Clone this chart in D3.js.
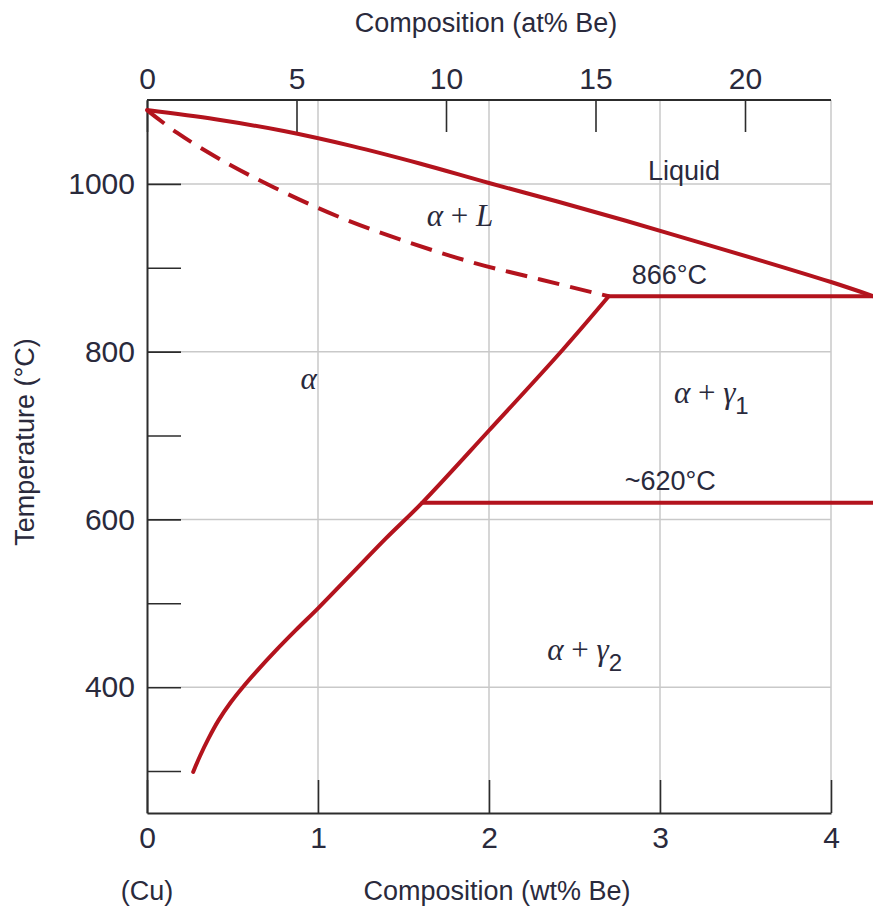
<!DOCTYPE html>
<html>
<head>
<meta charset="utf-8">
<script src="https://cdn.jsdelivr.net/npm/d3@7"></script>
<style>
  html, body { margin: 0; padding: 0; background: #fff; }
  svg text { font-family: "Liberation Sans", Arial, sans-serif; fill: #2a2a3c; }
</style>
</head>
<body>
<svg id="chart" width="873" height="907"></svg>
<script>
// ---- data (wt% Be, temperature °C) ----
const liquidusWt = [0, 0.4, 0.8, 1.2, 1.6, 2.0, 2.4, 2.8, 3.2, 3.6, 4.0, 4.25];
const liquidusT  = [1088, 1077, 1063, 1045, 1024, 1001, 979, 956, 932, 908, 883, 866];

const solidusWt = [0, 0.175, 0.43, 0.74, 1.13, 1.52, 1.91, 2.3, 2.7];
const solidusT  = [1088, 1061, 1029, 996, 960, 931, 906, 886, 866];

const solvusWt = [0.27, 0.31, 0.36, 0.42, 0.49, 0.56, 0.65, 0.75, 0.87, 1.0, 1.2, 1.4, 1.61, 2.0, 2.43, 2.7];
const solvusT  = [299, 318, 339, 361, 382, 400, 421, 443, 468, 494, 536, 578, 620, 706, 802, 866];

const peritecticWt = [2.7, 4.25];
const peritecticT  = [866, 866];
const eutectoidWt  = [1.61, 4.25];
const eutectoidT   = [620, 620];

const wtTicks = [0, 1, 2, 3, 4];
const atTicks = [0, 5, 10, 15, 20];
const tempTicks = [300, 400, 500, 600, 700, 800, 900, 1000];
const tempLabels = [400, 600, 800, 1000];
const gridWt = [1, 2, 3, 4];
const gridT = [400, 600, 800, 1000];

// region labels: [text, wt, T]
const plainLabels = [
  ["Liquid", 3.14, 1005],
  ["866°C", 3.055, 881],
  ["~620°C", 3.06, 635]
];

(function () {
// ---- layout ----
const svg = d3.select("#chart");
const mLeft = 147, mRight = 831, mTop = 100, mBottom = 813;
const x = d3.scaleLinear().domain([0, 4]).range([mLeft, mRight]);
const xAt = d3.scaleLinear().domain([0, 20]).range([mLeft, 745]);
const y = d3.scaleLinear().domain([250, 1100]).range([mBottom, mTop]);

const red = "#b3131d";
const gridColor = "#c9c9c9";
const axisColor = "#2c2c2c";

// grid
svg.append("g").selectAll("line").data(gridWt).join("line")
  .attr("x1", d => x(d)).attr("x2", d => x(d))
  .attr("y1", mTop).attr("y2", mBottom)
  .attr("stroke", gridColor).attr("stroke-width", 1.5);
svg.append("g").selectAll("line").data(gridT).join("line")
  .attr("x1", mLeft).attr("x2", mRight)
  .attr("y1", d => y(d)).attr("y2", d => y(d))
  .attr("stroke", gridColor).attr("stroke-width", 1.5);

function styleAxis(g) {
  g.select(".domain").attr("stroke", axisColor).attr("stroke-width", 2);
  g.selectAll(".tick line").attr("stroke", axisColor).attr("stroke-width", 1.6);
  g.selectAll(".tick text").attr("font-size", 30)
    .attr("font-family", "Liberation Sans, Arial, sans-serif").attr("fill", "#2a2a3c");
}

// bottom axis
svg.append("g").attr("transform", `translate(0,${mBottom})`)
  .call(d3.axisBottom(x).tickValues(wtTicks).tickSizeInner(-33).tickSizeOuter(0).tickPadding(14).tickFormat(d3.format("d")))
  .call(styleAxis);

// top axis
svg.append("g").attr("transform", `translate(0,${mTop})`)
  .call(d3.axisTop(xAt).tickValues(atTicks).tickSizeInner(-32).tickSizeOuter(0).tickPadding(11).tickFormat(d3.format("d")))
  .call(g => g.select(".domain").attr("d", `M${mLeft},0H${mRight}`))
  .call(styleAxis);

// left axis
svg.append("g").attr("transform", `translate(${mLeft},0)`)
  .call(d3.axisLeft(y).tickValues(tempTicks).tickSizeInner(-34).tickSizeOuter(0).tickPadding(12)
    .tickFormat(d => tempLabels.includes(d) ? d : ""))
  .call(styleAxis);

// phase boundaries
const curveLine = d3.line().x(d => x(d[0])).y(d => y(d[1])).curve(d3.curveCatmullRom.alpha(0.5));
const straightLine = d3.line().x(d => x(d[0])).y(d => y(d[1]));
const zipPts = (a, b) => a.map((v, i) => [v, b[i]]);

function drawLine(wt, T, dashed, curve) {
  svg.append("path")
    .datum(zipPts(wt, T))
    .attr("d", curve ? curveLine : straightLine)
    .attr("fill", "none")
    .attr("stroke", red)
    .attr("stroke-width", 4)
    .attr("stroke-linecap", dashed ? "butt" : "round")
    .attr("stroke-linejoin", "round")
    .attr("stroke-dasharray", dashed ? "22,11" : null);
}
drawLine(liquidusWt, liquidusT, false, true);
drawLine(solidusWt, solidusT, true, true);
drawLine(solvusWt, solvusT, false, true);
drawLine(peritecticWt, peritecticT, false, false);
drawLine(eutectoidWt, eutectoidT, false, false);

// plain labels
svg.append("g").selectAll("text").data(plainLabels).join("text")
  .attr("x", d => x(d[1])).attr("y", d => y(d[2]))
  .attr("text-anchor", "middle").attr("font-size", 27)
  .text(d => d[0]);

// greek labels
function greek(wt, T, parts) {
  const t = svg.append("text").attr("x", x(wt)).attr("y", y(T))
    .attr("text-anchor", "middle").attr("font-size", 31);
  parts.forEach(p => {
    const s = t.append("tspan").text(p.t);
    if (p.italic) s.attr("font-family", "Liberation Serif, Times New Roman, serif").attr("font-style", "italic");
    if (p.serif) s.attr("font-family", "Liberation Serif, Times New Roman, serif");
    if (p.sub) s.attr("baseline-shift", "-11px").attr("font-size", 24);
  });
}
greek(1.83, 950, [{t: "α", italic: true}, {t: " + ", serif: true}, {t: "L", italic: true}]);
greek(0.945, 755, [{t: "α", italic: true}]);
greek(3.3, 739, [{t: "α", italic: true}, {t: " + ", serif: true}, {t: "γ", italic: true}, {t: "1", sub: true}]);
greek(2.56, 432, [{t: "α", italic: true}, {t: " + ", serif: true}, {t: "γ", italic: true}, {t: "2", sub: true}]);

// axis titles
svg.append("text").attr("x", 486).attr("y", 32).attr("text-anchor", "middle")
  .attr("font-size", 27).text("Composition (at% Be)");
svg.append("text").attr("x", 497).attr("y", 900).attr("text-anchor", "middle")
  .attr("font-size", 27).text("Composition (wt% Be)");
svg.append("text").attr("x", x(0)).attr("y", 900).attr("text-anchor", "middle")
  .attr("font-size", 27).text("(Cu)");
svg.append("text").attr("transform", "translate(34,442) rotate(-90)").attr("text-anchor", "middle")
  .attr("font-size", 27).text("Temperature (°C)");
})();
</script>
</body>
</html>
